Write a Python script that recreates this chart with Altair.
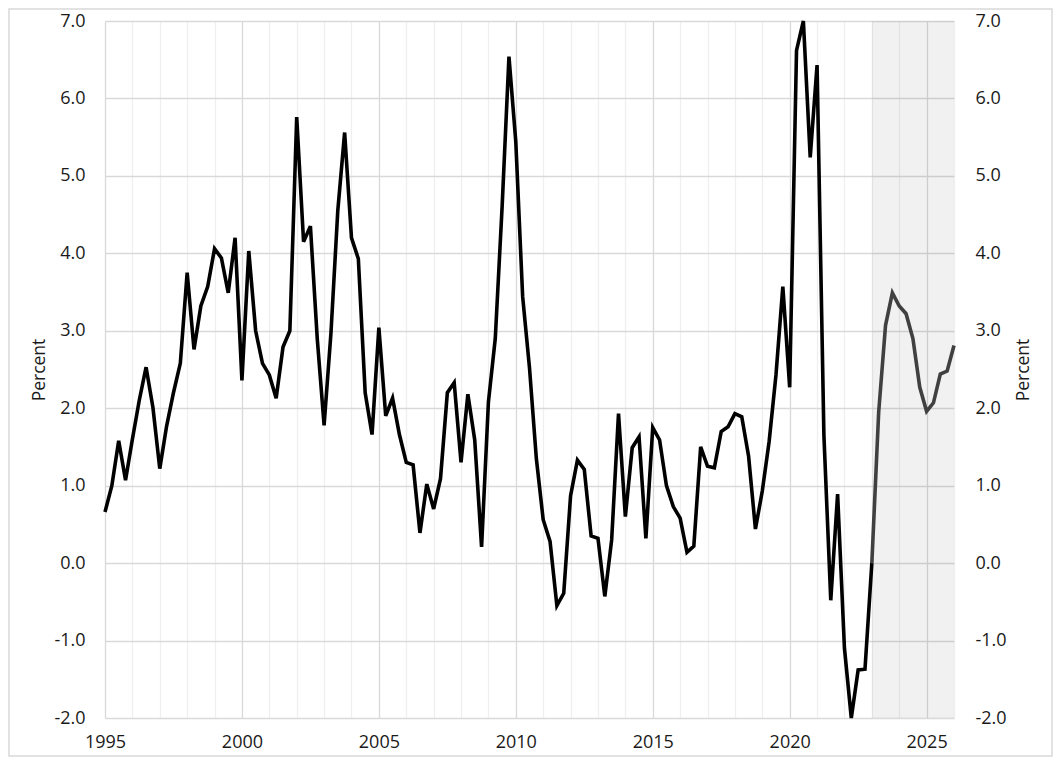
import altair as alt
import pandas as pd

# Quarterly values, 1995Q1 .. 2026Q1 (percent)
years_start = 1995
values = [
    0.66, 1.00, 1.58, 1.07,   # 1995
    1.60, 2.10, 2.53, 2.01,   # 1996
    1.22, 1.77, 2.20, 2.58,   # 1997
    3.75, 2.76, 3.32, 3.57,   # 1998
    4.06, 3.94, 3.49, 4.20,   # 1999
    2.36, 4.03, 3.00, 2.58,   # 2000
    2.43, 2.13, 2.79, 3.00,   # 2001
    5.76, 4.15, 4.35, 2.90,   # 2002
    1.78, 2.97, 4.55, 5.56,   # 2003
    4.20, 3.93, 2.20, 1.66,   # 2004
    3.04, 1.90, 2.13, 1.66,   # 2005
    1.30, 1.27, 0.39, 1.02,   # 2006
    0.70, 1.09, 2.20, 2.33,   # 2007
    1.30, 2.18, 1.59, 0.21,   # 2008
    2.08, 2.90, 4.60, 6.54,   # 2009
    5.44, 3.44, 2.52, 1.35,   # 2010
    0.56, 0.28, -0.55, -0.39, # 2011
    0.87, 1.33, 1.21, 0.35,   # 2012
    0.32, -0.43, 0.30, 1.93,  # 2013
    0.60, 1.49, 1.63, 0.32,   # 2014
    1.75, 1.59, 1.00, 0.73,   # 2015
    0.58, 0.14, 0.22, 1.50,   # 2016
    1.25, 1.23, 1.70, 1.76,   # 2017
    1.93, 1.89, 1.38, 0.44,   # 2018
    0.93, 1.57, 2.43, 3.57,   # 2019
    2.27, 6.62, 7.00, 5.24,   # 2020
    6.43, 1.65, -0.48, 0.89,  # 2021
    -1.10, -2.00, -1.38, -1.37,  # 2022
    0.00, 1.95, 3.07, 3.49,   # 2023
    3.32, 3.22, 2.90, 2.27,   # 2024
    1.96, 2.07, 2.44, 2.48,   # 2025
    2.81,                     # 2026
]
forecast_start = 2023.0
shade_start = [2023.0]
shade_end = [2026.0]
y_ticks = [-2, -1, 0, 1, 2, 3, 4, 5, 6, 7]
x_ticks = list(range(1995, 2027))

rows = []
for i, v in enumerate(values):
    t = years_start + i * 0.25
    if t <= forecast_start:
        rows.append({"t": t, "v": v, "seg": "actual"})
    if t >= forecast_start:
        rows.append({"t": t, "v": v, "seg": "forecast"})
df = pd.DataFrame(rows)

shade_df = pd.DataFrame({"x0": shade_start, "x1": shade_end, "y0": [-2], "y1": [7]})

W, H = 849, 697
LFONT = "Open Sans"
TFONT = "Open Sans"
LSIZE = 18
TSIZE = 17.5
Y_LABEL = "(datum.value < 0 ? '-' : '') + format(abs(datum.value), '.1f')"

xscale = alt.Scale(domain=[1995, 2026], nice=False, zero=False)
yscale = alt.Scale(domain=[-2, 7], nice=False, zero=False)

x_axis = alt.Axis(
    values=x_ticks,
    labelExpr="(datum.value % 5 == 0) ? toString(datum.value) : ''",
    labelOverlap=False,
    grid=True,
    gridColor={"condition": {"test": "datum.value % 5 == 0", "value": "#d9d9d9"}, "value": "#efefef"},
    gridWidth=1.3,
    ticks=False,
    domain=False,
    labelFont=LFONT,
    labelFontSize=LSIZE,
    labelColor="#1a1a1a",
    labelPadding=15,
    labelFlush=False,
    title=None,
)

shade = alt.Chart(shade_df).mark_rect(color="#000000", opacity=0.055).encode(
    x=alt.X("x0:Q", scale=xscale, axis=x_axis),
    x2="x1:Q",
    y=alt.Y("y0:Q", scale=yscale, axis=None),
    y2="y1:Q",
)

line = alt.Chart(df).mark_line(strokeWidth=3.6).encode(
    x=alt.X("t:Q", scale=xscale, axis=x_axis),
    y=alt.Y(
        "v:Q",
        scale=yscale,
        axis=alt.Axis(
            orient="left",
            values=y_ticks,
            labelExpr=Y_LABEL,
            labelOverlap=False,
            grid=True,
            gridColor="#d9d9d9",
            gridWidth=1.3,
            ticks=False,
            domain=False,
            labelFont=LFONT,
            labelFontSize=LSIZE,
            labelColor="#1a1a1a",
            labelPadding=20,
            title="Percent",
            titleFont=TFONT,
            titleFontSize=TSIZE,
            titleFontWeight="normal",
            titleColor="#1a1a1a",
            titlePadding=5,
        ),
    ),
    color=alt.Color(
        "seg:N",
        scale=alt.Scale(domain=["actual", "forecast"], range=["#000000", "#404040"]),
        legend=None,
    ),
    detail="seg:N",
)

right = alt.Chart(df).mark_line(opacity=0).encode(
    x=alt.X("t:Q", scale=xscale, axis=x_axis),
    y=alt.Y(
        "v:Q",
        scale=yscale,
        axis=alt.Axis(
            orient="right",
            values=y_ticks,
            labelExpr=Y_LABEL,
            labelOverlap=False,
            grid=False,
            ticks=False,
            domain=False,
            labelFont=LFONT,
            labelFontSize=LSIZE,
            labelColor="#1a1a1a",
            labelPadding=21,
            title="Percent",
            titleFont=TFONT,
            titleFontSize=TSIZE,
            titleFontWeight="normal",
            titleColor="#1a1a1a",
            titleAngle=270,
            titlePadding=26,
        ),
    ),
)

border = alt.Chart(pd.DataFrame({"k": [0]})).mark_rect(
    fill=None, stroke="#d9d9d9", strokeWidth=1.5
).encode(
    x=alt.value(-96), x2=alt.value(W + 98), y=alt.value(-12), y2=alt.value(H + 38)
)

chart = (
    alt.layer(shade, line, right, border)
    .resolve_scale(y="independent", color="independent")
    .properties(
        width=W,
        height=H,
        autosize=alt.AutoSizeParams(type="none"),
        padding={"left": 97, "top": 13, "right": 100, "bottom": 40},
        background="white",
    )
    .configure_view(stroke=None)
)

chart.save("out.html", embed_options={"renderer": "svg", "actions": False})
